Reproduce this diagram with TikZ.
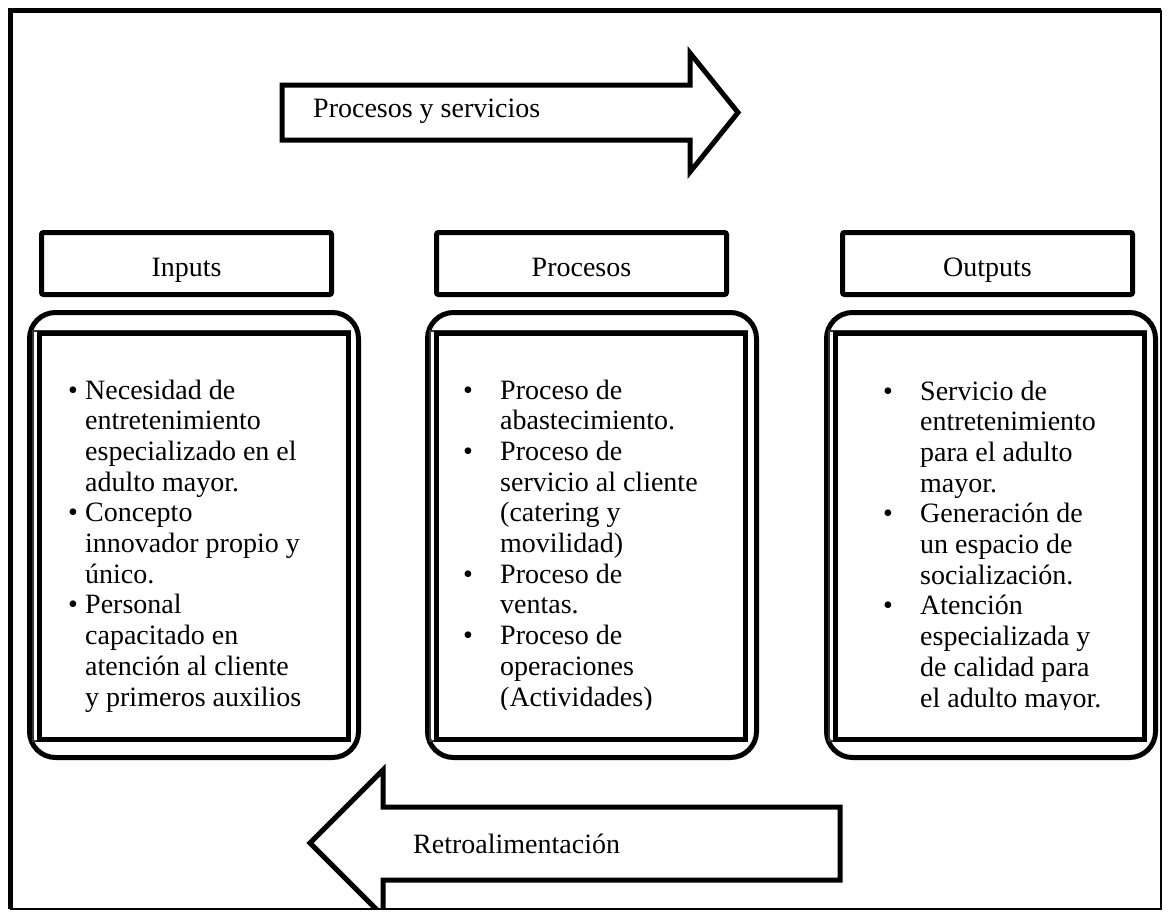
\documentclass[tikz,border=0pt]{standalone}
\usepackage{fontspec}
\setmainfont{Liberation Serif}
\usetikzlibrary{positioning}

\begin{document}
\begin{tikzpicture}[x=1pt,y=-1pt,line join=miter]
        \tikzstyle{every node}=[font=\fontsize{28}{30.7}\selectfont,inner sep=0pt]
        \tikzstyle{grueso}=[line width=5pt]
        \tikzstyle{fino}=[line width=1.2pt,black!80]
        \tikzstyle{cabecera}=[draw,line width=5pt,rounded corners=2pt,anchor=north west,minimum width=290pt,minimum height=62pt,text height=26pt,text depth=0pt]
        \tikzstyle{caja}=[draw,line width=5pt,rounded corners=26pt,anchor=north west,minimum width=329pt,minimum height=445pt]
        \tikzstyle{marco}=[draw,line width=5pt,anchor=north west,minimum width=309pt,minimum height=406pt]
        \tikzstyle{lista}=[anchor=base west,align=left]
        \useasboundingbox (0,0) rectangle (1170,911);

        % marco de la hoja
        \draw[grueso] (10,909) -- (10,10) -- (1161,10);
        \draw[line width=1.5pt] (1161,10) -- (1161,909) -- (10,909);

        % flecha superior
        \draw[grueso] (282,85) -- (690,85) -- (690,53) -- (738,112.5) -- (690,172) -- (690,140) -- (282,140) -- cycle;
        \node[anchor=base west] (procserv) at (313,117) {Procesos y servicios};

        % cabeceras
        \node[cabecera] (inputs) at (39,230) {Inputs};
        \node[cabecera] (procesos) at (434,230) {Procesos};
        \node[cabecera] (outputs) at (840,230) {Outputs};

        % cajas
        \node[caja] (cajaIn) at (27,310) {};
        \node[caja] (cajaPr) at (425,310) {};
        \node[caja] (cajaOut) at (824,310) {};
        \draw[fino] ([xshift=-4pt]37,331) rectangle ([xshift=4pt,yshift=-4pt]346,737);
        \draw[fino] ([xshift=-4pt]434,331) rectangle ([xshift=4pt,yshift=-4pt]743,737);
        \draw[fino] ([xshift=-4pt]833,331) rectangle ([xshift=4pt,yshift=-4pt]1142,737);
        \node[marco] (marcoIn) at (37,331) {};
        \node[marco] (marcoPr) at (434,331) {};
        \node[marco] (marcoOut) at (833,331) {};

        \node[lista] (textoIn) at (68,399) {%
          \begin{tabular}[t]{@{}p{17pt}@{}l@{}}
            \textbullet & Necesidad de\\
                        & entretenimiento\\
                        & especializado en el\\
                        & adulto mayor.\\
            \textbullet & Concepto\\
                        & innovador propio y\\
                        & único.\\
            \textbullet & Personal\\
                        & capacitado en\\
                        & atención al cliente\\
                        & y primeros auxilios
          \end{tabular}};
        \begin{scope}
          \clip (420,330) rectangle (1150,709);
          \node[lista] (textoPr) at (463,399) {%
            \begin{tabular}[t]{@{}p{37pt}@{}l@{}}
              \textbullet & Proceso de\\
                          & abastecimiento.\\
              \textbullet & Proceso de\\
                          & servicio al cliente\\
                          & (catering y\\
                          & movilidad)\\
              \textbullet & Proceso de\\
                          & ventas.\\
              \textbullet & Proceso de\\
                          & operaciones\\
                          & (Actividades)
            \end{tabular}};
          \node[lista] (textoOut) at (883,400) {%
            \begin{tabular}[t]{@{}p{37pt}@{}l@{}}
              \textbullet & Servicio de\\
                          & entretenimiento\\
                          & para el adulto\\
                          & mayor.\\
              \textbullet & Generación de\\
                          & un espacio de\\
                          & socialización.\\
              \textbullet & Atención\\
                          & especializada y\\
                          & de calidad para\\
                          & el adulto mayor.
            \end{tabular}};
        \end{scope}

        % flecha inferior
        \begin{scope}
          \clip (0,0) rectangle (1161,909);
          \draw[grueso] (840,807) -- (383,807) -- (383,770) -- (310,843) -- (383,916) -- (383,880) -- (840,880) -- cycle;
        \end{scope}
        \node[anchor=base west] (retro) at (413,853) {Retroalimentación};
\end{tikzpicture}
\end{document}
